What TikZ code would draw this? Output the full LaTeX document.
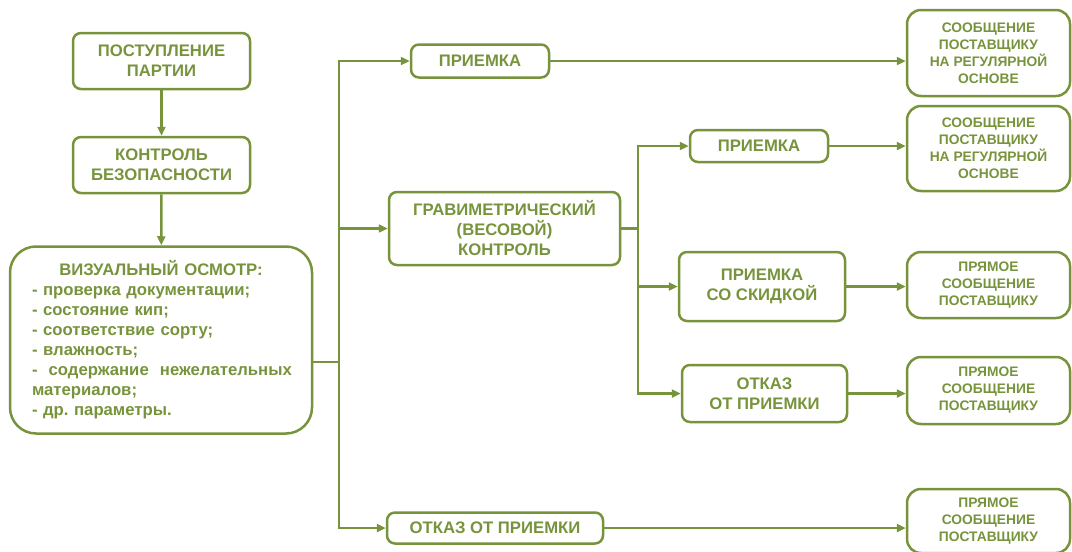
\documentclass[tikz,border=0pt]{standalone}
\usepackage{fontspec}
\setmainfont{Liberation Sans}
\usepackage{xcolor}
\definecolor{leaf}{HTML}{77933C}
\usepackage{tikz}
\usetikzlibrary{arrows.meta,positioning,calc}
\frenchspacing

\begin{document}
\begin{tikzpicture}[x=1pt, y=-1pt,
  font=\bfseries\fontsize{16.7}{20}\selectfont, text=leaf,
  box/.style={draw=leaf, line width=2.5pt, rounded corners=8pt,
    align=center, inner sep=0pt},
  note/.style={box, rounded corners=14pt, minimum width=163pt,
    font=\bfseries\fontsize{13.8}{17}\selectfont},
  link/.style={draw=leaf, line width=2.5pt},
  arr/.style={link, -{Triangle[length=9pt,width=8pt]}}
]
\useasboundingbox (0,0) rectangle (1072,552);
% left column
\node[box, minimum width=177pt, minimum height=56pt] (post) at (161.5,61) {ПОСТУПЛЕНИЕ\\ПАРТИИ};
\node[box, minimum width=177pt, minimum height=56pt] (bez) at (161.5,165) {КОНТРОЛЬ\\БЕЗОПАСНОСТИ};
\node[box, rounded corners=26pt, minimum width=302pt, minimum height=187pt,
  text width=258pt, align=left] (vis) at (161,340) {%
  \makebox[\linewidth]{ВИЗУАЛЬНЫЙ ОСМОТР:}\\
  - проверка документации;\\
  - состояние кип;\\
  - соответствие сорту;\\
  - влажность;\\
  \makebox[\linewidth][s]{-\ \ содержание\ \ нежелательных}\\
  материалов;\\
  - др. параметры.};
% middle column
\node[box, minimum width=138pt, minimum height=33pt] (pr1) at (480,61) {ПРИЕМКА};
\node[box, minimum width=231pt, minimum height=73pt] (grav) at (504.5,228.5) {ГРАВИМЕТРИЧЕСКИЙ\\(ВЕСОВОЙ)\\КОНТРОЛЬ};
\node[box, minimum width=216pt, minimum height=31pt] (otk) at (495,528) {ОТКАЗ ОТ ПРИЕМКИ};
\node[box, minimum width=138pt, minimum height=32pt] (pr2) at (759,146) {ПРИЕМКА};
\node[box, minimum width=166pt, minimum height=69pt] (sk) at (762,286.5) {ПРИЕМКА\\СО СКИДКОЙ};
\node[box, minimum width=165pt, minimum height=57pt] (ot2) at (764.5,393.5) {ОТКАЗ\\ОТ ПРИЕМКИ};
% right column
\node[note, minimum height=86pt] (msg1) at (988.5,53) {СООБЩЕНИЕ\\ПОСТАВЩИКУ\\НА РЕГУЛЯРНОЙ\\ОСНОВЕ};
\node[note, minimum height=85pt] (msg2) at (988.5,148.5) {СООБЩЕНИЕ\\ПОСТАВЩИКУ\\НА РЕГУЛЯРНОЙ\\ОСНОВЕ};
\node[note, minimum height=66pt] (msg3) at (988.5,285) {ПРЯМОЕ\\СООБЩЕНИЕ\\ПОСТАВЩИКУ};
\node[note, minimum height=67pt] (msg4) at (988.5,390.5) {ПРЯМОЕ\\СООБЩЕНИЕ\\ПОСТАВЩИКУ};
\node[note, minimum height=64pt] (msg5) at (988.5,521) {ПРЯМОЕ\\СООБЩЕНИЕ\\ПОСТАВЩИКУ};
% trunks
\coordinate (t1) at (339,362);
\coordinate (t2) at (638,228.5);
% connectors
\draw[arr] (post) -- (bez);
\draw[arr] (bez) -- (vis);
\draw[link] (vis.east |- t1) -- (t1);
\draw[arr] (t1) |- (pr1.west);
\draw[arr] (t1) |- (grav.west);
\draw[arr] (t1) |- (otk.west);
\draw[link] (grav.east) -- (t2);
\draw[arr] (t2) |- (pr2.west);
\draw[arr] (t2) |- (sk.west);
\draw[arr] (t2) |- (ot2.west);
\draw[arr] (pr1.east) -- (pr1.east -| msg1.west);
\draw[arr] (pr2.east) -- (pr2.east -| msg2.west);
\draw[arr] (sk.east) -- (sk.east -| msg3.west);
\draw[arr] (ot2.east) -- (ot2.east -| msg4.west);
\draw[arr] (otk.east) -- (otk.east -| msg5.west);
\end{tikzpicture}
\end{document}
